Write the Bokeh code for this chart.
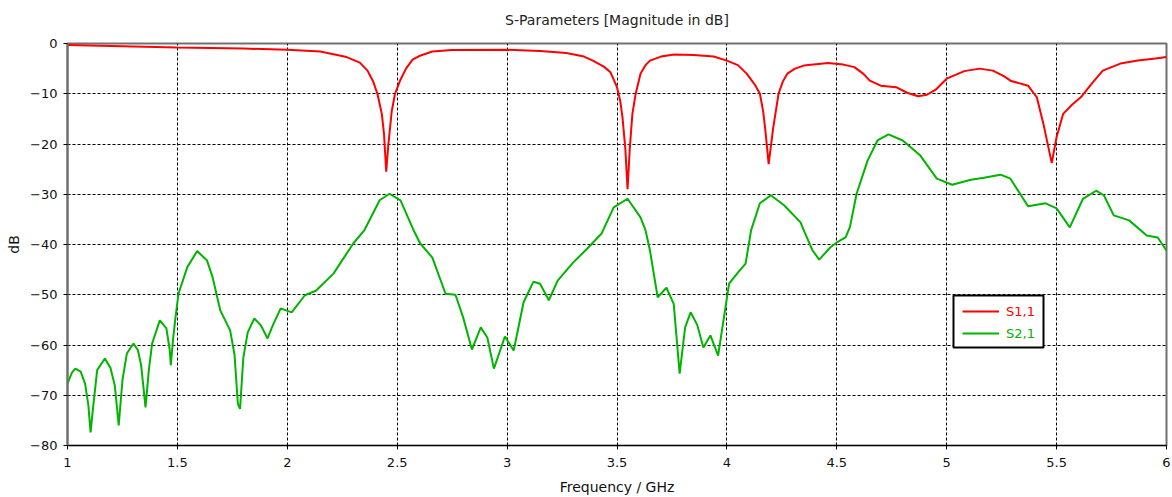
from bokeh.plotting import figure
from bokeh.models import (Range1d, FixedTicker, Legend, LegendItem, BoxAnnotation,
                          LinearAxis)
from bokeh.embed import file_html
from bokeh.resources import INLINE

# S1,1 magnitude (dB) versus frequency (GHz)
s11_freq = [1.0, 1.2, 1.5, 1.8, 2.0, 2.15, 2.27, 2.33, 2.365, 2.39, 2.41, 2.43, 2.44,
            2.45, 2.46, 2.475, 2.49, 2.515, 2.54, 2.57, 2.6, 2.66, 2.75, 3.0, 3.15,
            3.27, 3.35, 3.39, 3.44, 3.47, 3.5, 3.515, 3.525, 3.538, 3.548, 3.558,
            3.57, 3.585, 3.607, 3.63, 3.65, 3.7, 3.76, 3.85, 3.94, 4.0, 4.05, 4.09,
            4.13, 4.15, 4.165, 4.175, 4.19, 4.21, 4.235, 4.255, 4.275, 4.31, 4.35,
            4.46, 4.53, 4.58, 4.62, 4.65, 4.70, 4.77, 4.82, 4.87, 4.91, 4.95, 5.0,
            5.08, 5.15, 5.21, 5.26, 5.29, 5.37, 5.41, 5.44, 5.478, 5.50, 5.53, 5.57,
            5.61, 5.66, 5.71, 5.79, 5.87, 5.95, 6.0]
s11_db = [-0.3, -0.5, -0.8, -1.0, -1.25, -1.6, -2.7, -3.8, -5.4, -7.5, -10.0, -14.0,
          -18.0, -25.5, -20.0, -13.5, -10.0, -7.2, -5.0, -3.2, -2.5, -1.6, -1.3, -1.25,
          -1.5, -1.9, -2.6, -3.4, -4.6, -5.7, -8.7, -11.5, -14.7, -21.0, -29.0, -21.0,
          -14.0, -10.0, -6.0, -4.3, -3.4, -2.6, -2.2, -2.3, -2.6, -3.4, -4.3, -6.0,
          -8.4, -10.0, -13.5, -17.3, -24.0, -17.0, -10.0, -7.5, -6.0, -5.0, -4.4,
          -3.9, -4.2, -4.7, -6.0, -7.4, -8.4, -8.7, -9.8, -10.5, -10.2, -9.2, -7.0,
          -5.5, -5.0, -5.4, -6.5, -7.4, -8.4, -10.7, -16.0, -23.8, -18.6, -14.0, -12.2,
          -10.7, -8.0, -5.4, -4.0, -3.4, -3.0, -2.7]

# S2,1 magnitude (dB) versus frequency (GHz)
s21_freq = [1.0, 1.02, 1.036, 1.06, 1.08, 1.095, 1.105, 1.115, 1.135, 1.17, 1.195,
            1.215, 1.233, 1.25, 1.27, 1.3, 1.32, 1.335, 1.355, 1.37, 1.385, 1.42, 1.45,
            1.465, 1.47, 1.48, 1.49, 1.505, 1.545, 1.59, 1.635, 1.66, 1.695, 1.74,
            1.76, 1.775, 1.785, 1.8, 1.82, 1.85, 1.88, 1.91, 1.935, 1.97, 2.02, 2.08,
            2.13, 2.21, 2.30, 2.35, 2.42, 2.465, 2.515, 2.575, 2.605, 2.66, 2.72,
            2.765, 2.80, 2.84, 2.88, 2.91, 2.94, 2.99, 3.03, 3.075, 3.12, 3.15, 3.19,
            3.23, 3.30, 3.365, 3.43, 3.485, 3.548, 3.607, 3.63, 3.65, 3.685, 3.725,
            3.758, 3.785, 3.81, 3.835, 3.865, 3.893, 3.925, 3.96, 4.01, 4.05, 4.085,
            4.11, 4.15, 4.2, 4.26, 4.335, 4.35, 4.39, 4.42, 4.47, 4.5, 4.54, 4.56,
            4.59, 4.64, 4.685, 4.735, 4.80, 4.88, 4.955, 5.025, 5.11, 5.17, 5.245,
            5.29, 5.37, 5.45, 5.50, 5.56, 5.62, 5.68, 5.715, 5.76, 5.83, 5.91, 5.96,
            6.0]
s21_db = [-67.7, -65.5, -64.7, -65.3, -67.7, -72.0, -77.4, -73.0, -65.0, -62.7, -64.5,
          -68.0, -76.0, -67.0, -61.7, -59.7, -61.0, -64.0, -72.4, -65.0, -59.7, -55.1,
          -56.7, -61.0, -64.0, -59.0, -55.0, -49.8, -44.5, -41.3, -43.2, -46.5, -53.1,
          -57.1, -62.0, -71.7, -72.7, -62.5, -57.5, -54.7, -56.1, -58.7, -56.0, -52.7,
          -53.5, -50.1, -49.2, -45.8, -39.8, -37.2, -31.2, -29.9, -31.2, -37.2, -39.8,
          -42.6, -49.8, -50.0, -54.5, -60.9, -56.5, -58.5, -64.7, -58.3, -61.1, -51.5,
          -47.4, -47.8, -51.1, -47.2, -43.6, -40.8, -37.8, -32.6, -30.9, -34.6, -37.2,
          -41.2, -50.5, -48.6, -51.8, -65.7, -56.5, -53.5, -56.0, -60.5, -58.1, -62.1,
          -47.8, -45.6, -43.8, -37.2, -31.8, -30.2, -32.2, -35.6, -37.2, -41.2, -43.0,
          -40.6, -39.6, -38.6, -36.5, -29.9, -23.3, -19.3, -18.1, -19.3, -22.3, -26.9,
          -28.1, -27.1, -26.7, -26.1, -26.9, -32.4, -31.8, -32.8, -36.6, -30.9, -29.3,
          -30.2, -34.2, -35.2, -38.2, -38.6, -41.2]

x_ticks = [1, 1.5, 2, 2.5, 3, 3.5, 4, 4.5, 5, 5.5, 6]
y_ticks = [0, -10, -20, -30, -40, -50, -60, -70, -80]

FONT = "DejaVu Sans"
RED = "#ff0000"
GREEN = "#00b400"
TITLE = "S-Parameters [Magnitude in dB]"

p = figure(width=1172, height=497, output_backend="svg", toolbar_location=None,
           x_range=Range1d(1, 6), y_range=Range1d(-80, 0),
           min_border_left=67, min_border_right=6, min_border_top=43,
           min_border_bottom=52, title=None)

# heading carried by a tickless top axis, centred over the frame
head = LinearAxis(ticker=FixedTicker(ticks=[]), axis_line_color=None,
                  major_tick_line_color=None, minor_tick_line_color=None,
                  major_tick_in=0, major_tick_out=0, minor_tick_in=0, minor_tick_out=0,
                  major_label_standoff=0, axis_label=TITLE, axis_label_standoff=16,
                  axis_label_text_font=FONT, axis_label_text_font_size="14px",
                  axis_label_text_font_style="normal", axis_label_text_color="#222222")
p.add_layout(head, "above")

p.outline_line_color = "#707070"
p.outline_line_width = 2

xax = p.below[0]
yax = p.left[0]
for ax in (xax, yax):
    ax.major_label_text_font = FONT
    ax.major_label_text_font_size = "13px"
    ax.major_label_text_color = "#111111"
    ax.axis_label_text_font = FONT
    ax.axis_label_text_font_size = "14px"
    ax.axis_label_text_font_style = "normal"
    ax.axis_label_text_color = "#111111"
    ax.major_tick_in = 0
    ax.major_tick_out = 4
    ax.major_tick_line_color = "black"
    ax.minor_tick_line_color = None

xax.ticker = FixedTicker(ticks=x_ticks)
xax.major_label_overrides = {t: f"{t:g}" for t in x_ticks}
xax.axis_label = "Frequency / GHz"
xax.axis_line_color = "black"
xax.axis_line_width = 1
xax.major_label_standoff = 8
xax.axis_label_standoff = 9

yax.ticker = FixedTicker(ticks=y_ticks)
yax.axis_label = "dB"
yax.axis_line_color = "#707070"
yax.axis_line_width = 2
yax.major_label_standoff = 6
yax.axis_label_standoff = 5

for g in (p.xgrid[0], p.ygrid[0]):
    g.grid_line_color = "black"
    g.grid_line_dash = "3 2"
    g.grid_line_width = 1

r1 = p.line(s11_freq, s11_db, line_color=RED, line_width=2)
r2 = p.line(s21_freq, s21_db, line_color=GREEN, line_width=2)

# legend frame, then one borderless legend per trace so each label keeps its colour
box = BoxAnnotation(left=886, right=976, bottom=98, top=150,
                    left_units="screen", right_units="screen",
                    bottom_units="screen", top_units="screen",
                    fill_color="white", fill_alpha=1.0,
                    line_color="black", line_width=2, line_alpha=1.0)
p.add_layout(box)

for label, rend, color, loc in (("S1,1", r1, RED, (895, 126)),
                                ("S2,1", r2, GREEN, (895, 104))):
    leg = Legend(items=[LegendItem(label=label, renderers=[rend])], location=loc,
                 border_line_color=None, background_fill_alpha=0.0,
                 padding=0, margin=0, spacing=0,
                 glyph_width=37, glyph_height=16, label_height=16,
                 label_standoff=7, label_text_font=FONT,
                 label_text_font_size="13px", label_text_color=color)
    p.add_layout(leg)

open("out.html", "w").write(file_html(p, INLINE))
